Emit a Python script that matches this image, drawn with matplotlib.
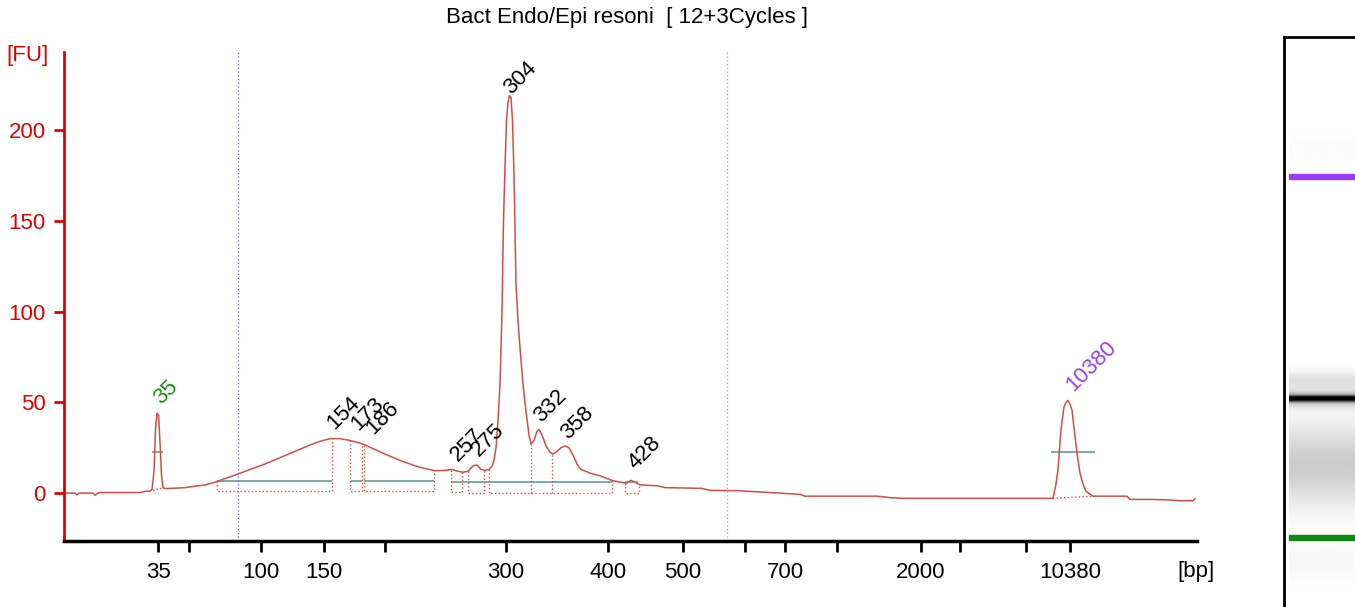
import numpy as np
import matplotlib.pyplot as plt

plt.rcParams['font.family'] = ['Liberation Sans', 'DejaVu Sans']

title = 'Bact Endo/Epi resoni  [ 12+3Cycles ]'

# electropherogram trace: migration position (screen units) and fluorescence [FU]
pos = [64, 75, 77, 79, 93, 95, 98, 100, 140, 145, 150, 152, 154, 155.5, 157, 158.5,
       160, 161.5, 163, 165, 175, 185, 195, 205, 215, 225, 238, 250, 265, 280, 295,
       310, 320, 330, 340, 345, 350, 360, 365, 375, 385, 400, 415, 425, 435, 445,
       452, 458, 463, 468, 473, 477, 481, 485, 489, 492, 494, 496, 498, 500, 502,
       503.5, 505, 506.5, 508, 509.5, 511, 512.5, 514, 516, 518, 520, 523, 526, 529,
       531, 534, 537, 539, 542, 546, 550, 553, 557, 561, 565, 569, 573, 577, 581,
       590, 600, 612, 620, 627, 631, 635, 640, 658, 665, 702, 710, 738, 767, 800,
       805, 877, 890, 902, 1000, 1053, 1056, 1058, 1061, 1064, 1066, 1068, 1070,
       1072, 1074, 1077, 1080, 1083, 1086, 1093, 1127, 1130, 1153, 1170, 1180, 1193, 1195]
fu = [0, 0, -1, 0, 0, -1.2, 0, 0.3, 0.3, 1, 1, 2, 12, 35, 44, 43,
      28, 10, 3, 2.5, 2.7, 3, 3.8, 4.5, 6, 8, 10.5, 13, 16, 19.5, 23,
      26.5, 28.5, 30, 30, 29.5, 29, 27.5, 26.5, 24, 21.5, 18, 15, 13.5, 12.3, 12.5,
      13, 12, 11.5, 12, 15, 15.5, 13, 12.5, 13, 15, 18, 25, 40, 60, 100,
      150, 180, 205, 215, 219, 218, 205, 175, 115, 95, 80, 60, 45, 32,
      27, 29, 34, 35, 32, 26, 22.5, 21.5, 23, 25, 26, 25, 21, 16, 13,
      11, 9.5, 7, 6, 5.5, 7, 6, 4.5, 4, 3, 2.6, 1.5, 1.3, 0.4, -0.7,
      -1.7, -1.7, -2.5, -2.9, -2.9, -2.9, 5, 13, 35, 47.5, 50, 51, 49,
      45.7, 36, 22, 11, 5, 1, -1.7, -1.7, -3.5, -3.5, -3.8, -4.2, -4.2, -3]

# x axis (bp)
tick_pos = [158, 189, 261, 324, 385, 506, 608, 683, 745, 785, 837, 921, 960, 1026, 1070]
tick_lab = ['35', '', '100', '150', '', '300', '400', '500', '', '700', '', '2000', '', '', '10380']

# peak labels
peak_lab = ['35', '154', '173', '186', '257', '275', '304', '332', '358', '428', '10380']
peak_col = ['#1a8a1a'] + ['black'] * 9 + ['#9b3df0']
lab_x = [161, 334, 358, 373, 458, 479, 511, 541, 568, 636, 1073]
lab_y = [48.5, 34.7, 34.2, 32.0, 17.1, 19.8, 219.3, 38.6, 29.2, 12.7, 55.6]

# peak / smear regions (start, end, baseline)
reg_start = [217, 350, 364, 451, 468, 489, 625]
reg_end = [332, 362, 434, 462, 484, 612, 639]
reg_base = [1.3, 1.3, 1.3, 0.7, 0.2, 0.2, 0.2]
reg_split = [531, 552]

teal_start = [217, 351, 364, 451, 625]
teal_end = [332, 362, 434, 612, 638]
teal_y = [6.6, 6.6, 6.6, 5.9, 5.9]

# gel lane bands (row px, spread, darkness)
gel_y = [150, 380, 398, 398, 465, 560]
gel_sig = [12, 6, 2.2, 6, 28, 15]
gel_dark = [0.015, 0.12, 0.95, 0.25, 0.2, 0.03]

fig = plt.figure(figsize=(13.55, 6.07), dpi=100)
ax = fig.add_axes([64 / 1355, 66 / 607, 1133 / 1355, 489 / 607])

ax.axvline(238, color='#6a6ad0', ls=(0, (1, 2)), lw=0.9)
ax.axvline(727, color='#a0a0c8', ls=(0, (1, 2)), lw=0.9)

ax.hlines(teal_y, teal_start, teal_end, color='#5f9f92', lw=1.2)
ax.hlines([22.6, 22.6], [152, 1051], [163, 1095], color='#5f9f92', lw=1.2)

dcol = '#e04848'
for s, e, b in zip(reg_start, reg_end, reg_base):
    ax.plot([s, s, e, e], [np.interp(s, pos, fu), b, b, np.interp(e, pos, fu)],
            color=dcol, ls=':', lw=1)
for s in reg_split:
    ax.plot([s, s], [0.2, np.interp(s, pos, fu)], color=dcol, ls=':', lw=1)
ax.plot([153, 163], [1.5, 2.8], color=dcol, ls=':', lw=1)
ax.plot([1053, 1093], [-2.9, -1.7], color=dcol, ls=':', lw=1)

ax.plot(pos, fu, color='#d24c4c', lw=1.1)

for t, c, x, y in zip(peak_lab, peak_col, lab_x, lab_y):
    ax.text(x, y, t, color=c, fontsize=16, rotation=45, rotation_mode='anchor',
            ha='left', va='baseline')

ax.set_xlim(64, 1197)
ax.set_ylim(-26.4, 243)
ax.set_xticks(tick_pos)
ax.set_xticklabels(tick_lab)
ax.set_yticks([0, 50, 100, 150, 200])

for s in ['top', 'right']:
    ax.spines[s].set_visible(False)
ax.spines['left'].set_color('#e00000')
ax.spines['left'].set_linewidth(2)
ax.spines['bottom'].set_linewidth(2.5)
ax.tick_params(axis='y', colors='#e00000', length=7, width=2, labelsize=16, pad=6)
ax.tick_params(axis='x', length=8, width=2, labelsize=16, pad=7)

fig.text(627 / 1355, 1 - 18 / 607, title, ha='center', va='center', fontsize=16)
fig.text(27 / 1355, 1 - 56 / 607, '[FU]', color='#e00000', ha='center', va='center', fontsize=16)
fig.text(1196 / 1355, 1 - 572 / 607, '[bp]', ha='center', va='center', fontsize=16)

# gel lane
gax = fig.add_axes([1284 / 1355, 0, 76 / 1355, 570 / 607])
rows = np.arange(37, 607)
dark = np.zeros(len(rows))
for yc, sg, dk in zip(gel_y, gel_sig, gel_dark):
    dark += dk * np.exp(-0.5 * ((rows - yc) / sg) ** 2)
img = 1 - np.clip(dark, 0, 1)
gax.imshow(np.tile(img[:, None], (1, 4)), cmap='gray', vmin=0, vmax=1,
           extent=[0.06, 1, 607, 37], aspect='auto', interpolation='bilinear')
gax.axhspan(173.5, 178.5, xmin=0.06, color='#9b3df0')
gax.axhspan(535, 540, xmin=0.06, color='#118811')
gax.set_xlim(0, 1)
gax.set_ylim(607, 37)
gax.set_xticks([])
gax.set_yticks([])
for s in ['right', 'bottom']:
    gax.spines[s].set_visible(False)
gax.spines['left'].set_linewidth(2)
gax.spines['top'].set_linewidth(2)

fig.savefig('out.png', dpi=100)
